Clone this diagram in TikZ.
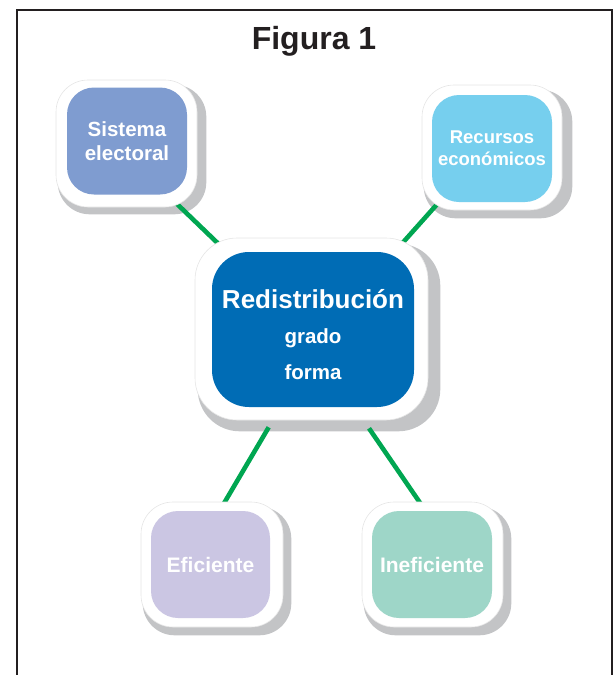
\documentclass[tikz,border=0pt]{standalone}
\usepackage{fontspec}
\setmainfont{Liberation Sans}
\usetikzlibrary{calc}
\definecolor{framec}{HTML}{231F20}
\definecolor{shadowc}{HTML}{C3C4C6}
\definecolor{linkc}{HTML}{00A651}
\definecolor{sisc}{HTML}{7F9CD0}
\definecolor{recc}{HTML}{76CFEE}
\definecolor{redc}{HTML}{006CB5}
\definecolor{efic}{HTML}{CBC6E3}
\definecolor{inefc}{HTML}{9ED6C8}
\pgfdeclarelayer{bg}
\pgfsetlayers{bg,main}
\begin{document}
\begin{tikzpicture}[x=1pt,y=-1pt,
  outerbox/.style={draw=black!10, line width=0.6pt, fill=white, rounded corners=32pt, inner sep=0pt},
  innerbox/.style={rounded corners=27pt, inner sep=0pt, text=white, align=center, font=\bfseries},
  link/.style={draw=linkc, line width=4.6pt},
  shadowbox/.style={fill=shadowc, rounded corners=32pt}]
\useasboundingbox (0,0) rectangle (616,675);
% frame
\draw[framec, line width=2pt] (17,676) -- (17,10) -- (612,10) -- (612,676);
\node[font=\bfseries\fontsize{32}{36}\selectfont, text=framec] (title) at (314,41) {Figura 1};

% Sistema electoral
\node[outerbox, minimum width=141pt, minimum height=127pt] (seo) at (126.5,143.5) {};
\node[innerbox, fill=sisc, minimum width=120pt, minimum height=107pt,
  font=\bfseries\fontsize{20.5}{24}\selectfont] (se) at (127,141) {Sistema\\electoral};
% Recursos economicos
\node[outerbox, minimum width=140pt, minimum height=125pt] (reo) at (492,147.5) {};
\node[innerbox, fill=recc, minimum width=120pt, minimum height=107pt,
  font=\bfseries\fontsize{18.5}{22}\selectfont] (re) at (492,148.5) {Recursos\\económicos};
% Centre
\node[outerbox, rounded corners=42pt, minimum width=233pt, minimum height=182pt] (co) at (311.5,329) {};
\node[innerbox, rounded corners=37pt, fill=redc, minimum width=202pt, minimum height=155pt,
  font=\bfseries\fontsize{20.5}{35.5}\selectfont] (c) at (313,329.5)
  {\raisebox{-7pt}[\height][\depth]{\begin{tabular}{@{}c@{}}{\fontsize{26}{30}\selectfont Redistribución}\\grado\\forma\end{tabular}}};
% Eficiente
\node[outerbox, minimum width=142pt, minimum height=125pt] (efo) at (212,564.5) {};
\node[innerbox, fill=efic, minimum width=119pt, minimum height=107pt,
  font=\bfseries\fontsize{21}{25}\selectfont] (ef) at (210.5,564.5) {Eficiente};
% Ineficiente
\node[outerbox, minimum width=141pt, minimum height=125pt] (info) at (432.5,564.5) {};
\node[innerbox, fill=inefc, minimum width=120pt, minimum height=107pt,
  font=\bfseries\fontsize{21}{25}\selectfont] (inf) at (432,564.5) {Ineficiente};

\begin{pgfonlayer}{bg}
  \fill[shadowbox] ($(seo.north west)+(2,5)$) rectangle ($(seo.south east)+(9,7)$);
  \fill[shadowbox] ($(reo.north west)+(2,5)$) rectangle ($(reo.south east)+(10,8)$);
  \fill[shadowbox, rounded corners=42pt] ($(co.north west)+(3,6)$) rectangle ($(co.south east)+(12,11)$);
  \fill[shadowbox] ($(efo.north west)+(2,5)$) rectangle ($(efo.south east)+(8,8)$);
  \fill[shadowbox] ($(info.north west)+(2,5)$) rectangle ($(info.south east)+(8,8)$);
  \draw[link] ($(seo.south east)+(-22,-5)$) -- ($(co.north west)+(35,17)$);
  \draw[link] ($(reo.south west)+(18,-9)$) -- ($(co.north east)+(-30,10)$);
  \draw[link] ($(co.south west)+(74,7)$) -- ($(efo.north)+(10,5)$);
  \draw[link] ($(co.south)+(57.5,8)$) -- ($(info.north)+(-10.5,4)$);
\end{pgfonlayer}
\end{tikzpicture}
\end{document}
